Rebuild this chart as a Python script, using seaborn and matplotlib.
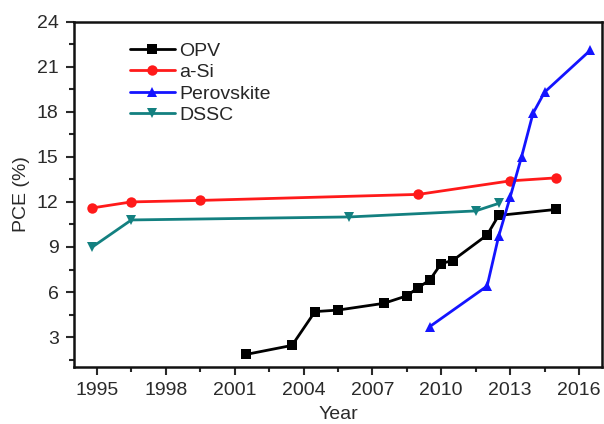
import numpy as np
import pandas as pd
import matplotlib
matplotlib.use("Agg")
import matplotlib.pyplot as plt
from matplotlib.ticker import AutoMinorLocator
import seaborn as sns

# Power conversion efficiency records by technology
opv_year = [2001.5, 2003.5, 2004.5, 2005.5, 2007.5, 2008.5, 2009.0, 2009.5, 2010.0, 2010.5, 2012.0, 2012.5, 2015.0]
opv_pce = [1.85, 2.45, 4.7, 4.8, 5.25, 5.75, 6.3, 6.8, 7.9, 8.1, 9.8, 11.1, 11.5]

asi_year = [1994.8, 1996.5, 1999.5, 2009.0, 2013.0, 2015.0]
asi_pce = [11.6, 12.0, 12.1, 12.5, 13.4, 13.6]

pero_year = [2009.5, 2012.0, 2012.5, 2013.0, 2013.5, 2014.0, 2014.5, 2016.5]
pero_pce = [3.7, 6.4, 9.7, 12.3, 15.0, 17.9, 19.3, 22.1]

dssc_year = [1994.8, 1996.5, 2006.0, 2011.5, 2012.5]
dssc_pce = [9.0, 10.8, 11.0, 11.4, 11.9]

series = ["OPV", "a-Si", "Perovskite", "DSSC"]
x_ticks = [1995, 1998, 2001, 2004, 2007, 2010, 2013, 2016]
y_ticks = [3, 6, 9, 12, 15, 18, 21, 24]

frames = []
for name, xs, ys in [("OPV", opv_year, opv_pce), ("a-Si", asi_year, asi_pce),
                     ("Perovskite", pero_year, pero_pce), ("DSSC", dssc_year, dssc_pce)]:
    frames.append(pd.DataFrame({"Year": xs, "PCE": ys, "Cell": name}))
df = pd.concat(frames, ignore_index=True)

sns.set_style("ticks")
plt.rcParams["font.family"] = ["Liberation Sans", "DejaVu Sans"]

palette = {"OPV": "#000000", "a-Si": "#ff1a1a", "Perovskite": "#1414ff", "DSSC": "#138080"}
markers = {"OPV": "s", "a-Si": "o", "Perovskite": "^", "DSSC": "v"}

fig = plt.figure(figsize=(6.04, 4.24), dpi=100)
ax = fig.add_axes([0.1225, 0.134, 0.874, 0.815])

sns.lineplot(data=df, x="Year", y="PCE", hue="Cell", style="Cell", hue_order=series,
             style_order=series, palette=palette, markers=markers, dashes=False,
             sort=False, estimator=None, linewidth=2, markersize=7.5,
             markeredgewidth=0, ax=ax)

ax.set_xlim(1994, 2017)
ax.set_ylim(1, 24)
ax.set_xticks(x_ticks)
ax.set_yticks(y_ticks)
ax.xaxis.set_minor_locator(AutoMinorLocator(2))
ax.yaxis.set_minor_locator(AutoMinorLocator(2))
ax.tick_params(axis="both", which="major", direction="out", length=6, width=1.5,
               labelsize=14, colors="#2a2a2a", pad=5)
ax.tick_params(axis="both", which="minor", direction="out", length=3.5, width=1.5)
ax.tick_params(top=False, right=False, which="both")
for s in ax.spines.values():
    s.set_linewidth(1.8)
    s.set_color("#111111")

ax.set_xlabel("Year", fontsize=14, color="#2a2a2a", labelpad=5)
ax.set_ylabel("PCE (%)", fontsize=14, color="#2a2a2a", labelpad=5)

leg = ax.legend(loc="upper left", bbox_to_anchor=(0.091, 0.963), frameon=False,
                fontsize=14, handlelength=2.3, handletextpad=0.25, labelspacing=0.2,
                borderaxespad=0)

fig.savefig("out.png", dpi=100)
